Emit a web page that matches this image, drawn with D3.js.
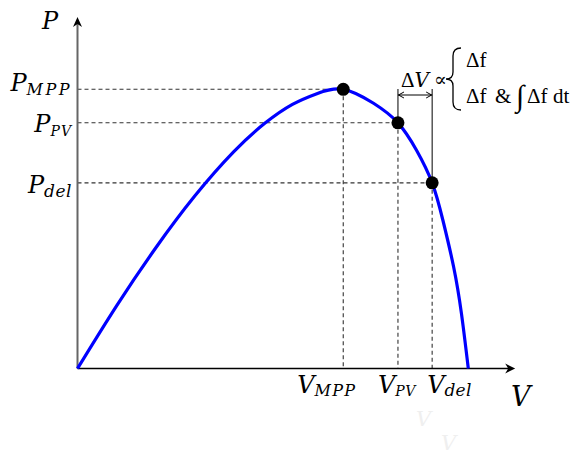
<!DOCTYPE html>
<html>
<head>
<meta charset="utf-8">
<script src="https://cdn.jsdelivr.net/npm/d3@7"></script>
<style>
  html, body { margin: 0; padding: 0; background: #fff; }
  svg { display: block; }
  text { font-family: "Liberation Serif", "DejaVu Serif", serif; fill: #000; }
  .it { font-family: "DejaVu Serif", serif; font-style: italic; }
</style>
</head>
<body>
<svg id="chart" width="585" height="454"></svg>
<script>
// P–V characteristic of the PV array (voltage in V, power in W)
const voltage = [0, 4, 8, 12, 16, 19.2, 22, 24.5, 27.2, 30.3, 32.8, 34.7, 36.3, 37.4, 38.5, 39.3, 40];
const power   = [0, 44.9, 86.3, 123.5, 155.3, 175.8, 189.2, 196.9, 200, 190, 176, 156.4, 133, 106.2, 72.7, 39.3, 0];

// Operating points marked on the curve
const pointNames   = ["MPP", "PV", "del"];
const pointVoltage = [27.2, 32.8, 36.3];
const pointPower   = [200, 176, 133];

// Axis extents
const vMax = 44.8;
const pMax = 251.8;

const svg = d3.select("#chart");
const x = d3.scaleLinear().domain([0, 40]).range([77.5, 468.3]);
const y = d3.scaleLinear().domain([0, 200]).range([368.5, 89.3]);

const curve = voltage.map((v, i) => ({ v, p: power[i] }));
const pts = pointNames.map((n, i) => ({ n, v: pointVoltage[i], p: pointPower[i] }));

// Guide lines from each operating point to both axes
const guides = svg.append("g")
  .attr("stroke", "#333").attr("stroke-width", 1.1).attr("stroke-dasharray", "4,3").attr("fill", "none");
pts.forEach(d => {
  guides.append("line").attr("x1", x(0)).attr("x2", x(d.v)).attr("y1", y(d.p)).attr("y2", y(d.p));
  guides.append("line").attr("x1", x(d.v)).attr("x2", x(d.v)).attr("y1", y(d.p)).attr("y2", y(0));
});

// Axes with arrow heads
svg.append("line").attr("x1", x(0)).attr("x2", x(0)).attr("y1", y(0)).attr("y2", y(pMax) + 6)
  .attr("stroke", "#666").attr("stroke-width", 2);
svg.append("line").attr("x1", x(0)).attr("x2", x(vMax) - 6).attr("y1", y(0)).attr("y2", y(0))
  .attr("stroke", "#000").attr("stroke-width", 1.4);

function arrowHead(tx, ty, angle, len, half) {
  svg.append("path")
    .attr("d", `M0,0 L${-len},${-half} L${-len * 0.7},0 L${-len},${half} Z`)
    .attr("fill", "#000")
    .attr("transform", `translate(${tx},${ty}) rotate(${angle})`);
}
arrowHead(x(0), y(pMax), -90, 10, 4.5);
arrowHead(x(vMax), y(0), 0, 10, 5);

// The P–V curve
const line = d3.line().x(d => x(d.v)).y(d => y(d.p)).curve(d3.curveNatural);
svg.append("path").datum(curve)
  .attr("d", line)
  .attr("fill", "none").attr("stroke", "#0000ff").attr("stroke-width", 3.2);

// ΔV bracket between the PV and delivered operating points
const pv = pts[1], del = pts[2];
const bracketTop = 89, arrowY = 95;
svg.append("line").attr("x1", x(pv.v)).attr("x2", x(pv.v)).attr("y1", bracketTop).attr("y2", y(pv.p))
  .attr("stroke", "#000").attr("stroke-width", 1);
svg.append("line").attr("x1", x(del.v)).attr("x2", x(del.v)).attr("y1", bracketTop).attr("y2", y(del.p))
  .attr("stroke", "#000").attr("stroke-width", 1);
svg.append("line").attr("x1", x(pv.v)).attr("x2", x(del.v)).attr("y1", arrowY).attr("y2", arrowY)
  .attr("stroke", "#000").attr("stroke-width", 1);
svg.append("path")
  .attr("d", `M${x(pv.v) + 6},${arrowY - 3} L${x(pv.v) + 0.5},${arrowY} L${x(pv.v) + 6},${arrowY + 3}
              M${x(del.v) - 6},${arrowY - 3} L${x(del.v) - 0.5},${arrowY} L${x(del.v) - 6},${arrowY + 3}`)
  .attr("fill", "none").attr("stroke", "#000").attr("stroke-width", 1);

// Operating point markers
svg.append("g").selectAll("circle").data(pts).join("circle")
  .attr("cx", d => x(d.v)).attr("cy", d => y(d.p)).attr("r", 6.5).attr("fill", "#000");

// Axis titles
svg.append("text").attr("class", "it").attr("x", 42).attr("y", 29).attr("font-size", 24).text("P");
svg.append("text").attr("class", "it").attr("x", 511).attr("y", 406).attr("font-size", 27).text("V");

// Power level labels on the vertical axis
const pLabelDy = [2, 9, 10.5];
const pSubSize = [16, 14, 17];
const pSubSpacing = [2.5, 1, 0.5];
pts.forEach((d, i) => {
  const t = svg.append("text").attr("class", "it").attr("text-anchor", "end")
    .attr("x", 72).attr("y", y(d.p) + pLabelDy[i]).attr("font-size", 24);
  t.append("tspan").text("P");
  t.append("tspan").attr("dy", 4).attr("font-size", pSubSize[i])
    .attr("letter-spacing", pSubSpacing[i]).text(d.n);
});

// Voltage level labels under the horizontal axis
const vLabelDx = [-46, -20, -5];
pts.forEach((d, i) => {
  const t = svg.append("text").attr("class", "it")
    .attr("x", x(d.v) + vLabelDx[i]).attr("y", 393).attr("font-size", 24);
  t.append("tspan").text("V");
  t.append("tspan").attr("dy", 3).attr("font-size", pSubSize[i])
    .attr("letter-spacing", pSubSpacing[i] * 0.5).text(d.n);
});

// ΔV ∝ { Δf ; Δf & ∫Δf dt }
const dv = svg.append("text").attr("x", 401).attr("y", 87).attr("font-size", 21);
dv.append("tspan").text("Δ");
dv.append("tspan").attr("class", "it").attr("font-size", 20).text("V");
svg.append("text").attr("x", 434).attr("y", 86).attr("font-size", 19).text("∝");
svg.append("path")
  .attr("d", "M461,48 Q453,48 453,56 L453,72 Q453,79 446,79 Q453,79 453,86 L453,102 Q453,110 461,110")
  .attr("fill", "none").attr("stroke", "#000").attr("stroke-width", 1.3);
svg.append("text").attr("x", 466).attr("y", 67).attr("font-size", 21).text("Δf");
svg.append("text").attr("x", 466).attr("y", 103).attr("font-size", 21).text("Δf");
svg.append("text").attr("x", 495).attr("y", 103).attr("font-size", 21).text("&");
svg.append("text").attr("x", 516).attr("y", 106).attr("font-size", 30).text("∫");
svg.append("text").attr("x", 527).attr("y", 103).attr("font-size", 21).text("Δf");
svg.append("text").attr("x", 553).attr("y", 103).attr("font-size", 21).text("dt");

// Faint marks below the axis
svg.append("text").attr("class", "it").attr("x", 416).attr("y", 426).attr("font-size", 21)
  .style("fill", "#efefef").text("V");
svg.append("text").attr("class", "it").attr("x", 441).attr("y", 450).attr("font-size", 21)
  .style("fill", "#efefef").text("V");
</script>
</body>
</html>
